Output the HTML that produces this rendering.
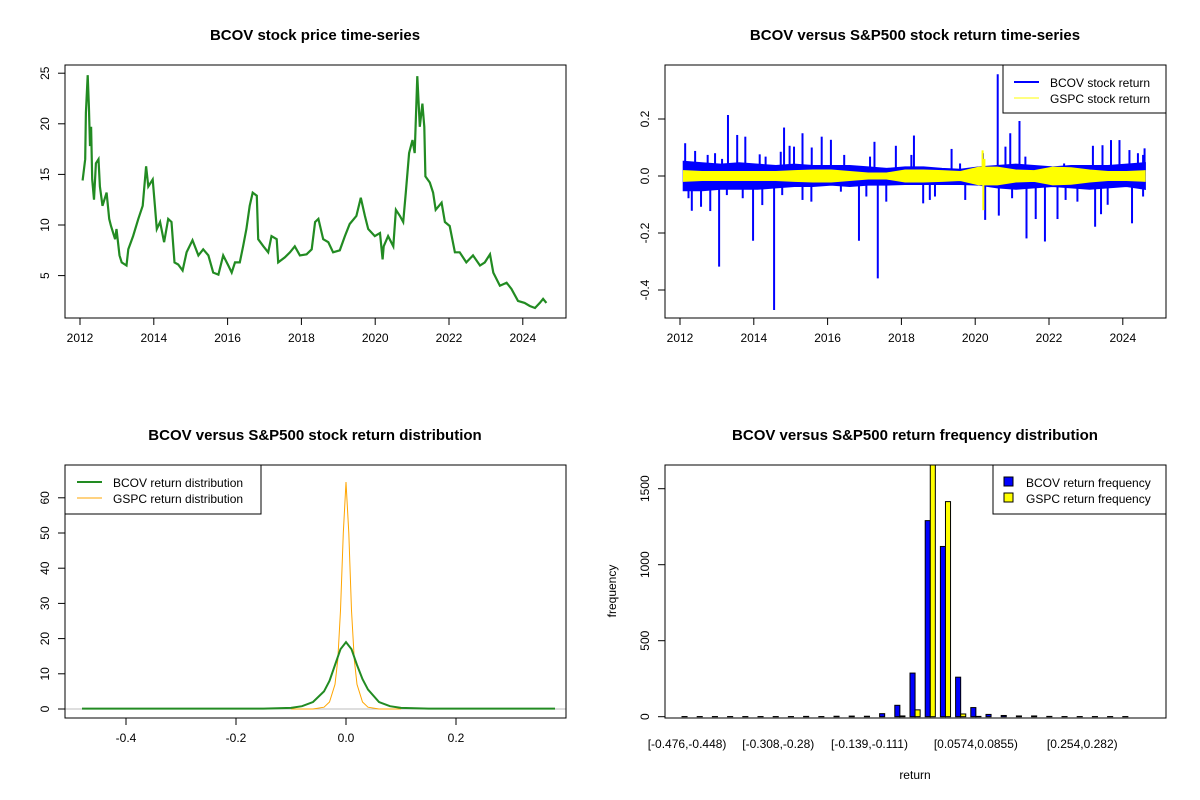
<!DOCTYPE html>
<html><head><meta charset="utf-8">
<style>
html,body{margin:0;padding:0;background:#fff;}
svg{display:block;font-family:"Liberation Sans",Arial,sans-serif;}
</style></head>
<body>
<svg id="chart" width="1200" height="800" viewBox="0 0 1200 800"></svg>
<script>
// ---------- Panel 1 data: BCOV price ----------
const priceYears=[2012.07,2012.14,2012.16,2012.21,2012.24,2012.27,2012.30,2012.33,2012.38,2012.43,2012.50,2012.54,2012.61,2012.72,2012.79,2012.84,2012.95,2012.99,2013.07,2013.13,2013.26,2013.31,2013.44,2013.58,2013.70,2013.79,2013.85,2013.97,2014.03,2014.08,2014.17,2014.28,2014.39,2014.48,2014.56,2014.66,2014.78,2014.89,2015.05,2015.21,2015.34,2015.48,2015.61,2015.75,2015.88,2016.02,2016.11,2016.20,2016.33,2016.42,2016.51,2016.60,2016.68,2016.79,2016.83,2016.97,2017.10,2017.19,2017.33,2017.37,2017.55,2017.69,2017.82,2017.96,2018.14,2018.28,2018.37,2018.46,2018.59,2018.73,2018.86,2019.04,2019.18,2019.31,2019.49,2019.61,2019.72,2019.81,2019.99,2020.13,2020.20,2020.23,2020.35,2020.49,2020.56,2020.67,2020.76,2020.83,2020.92,2021.01,2021.07,2021.14,2021.21,2021.28,2021.33,2021.36,2021.48,2021.57,2021.64,2021.80,2021.89,2022.02,2022.16,2022.29,2022.47,2022.65,2022.84,2022.97,2023.11,2023.20,2023.38,2023.56,2023.69,2023.87,2024.05,2024.19,2024.33,2024.46,2024.55,2024.64];
const priceVals=[14.4,16.5,21.1,24.8,21.7,17.8,19.7,14.5,12.5,16.1,16.5,13.8,11.9,13.2,10.6,9.9,8.6,9.6,7.0,6.3,6.0,7.6,8.9,10.6,11.9,15.8,13.8,14.5,11.9,9.6,10.3,8.3,10.6,10.3,6.3,6.1,5.5,7.3,8.5,7.0,7.6,7.0,5.3,5.1,7.0,6.0,5.3,6.3,6.3,7.9,9.6,11.9,13.2,12.9,8.6,7.9,7.3,8.9,8.6,6.3,6.8,7.3,7.9,7.0,7.1,7.6,10.3,10.6,8.6,8.3,7.3,7.5,8.9,10.1,10.9,12.7,10.9,9.6,8.9,9.2,6.6,7.9,8.9,7.9,11.5,10.9,10.3,13.2,17.1,18.4,17.1,24.7,19.7,22.0,19.7,14.8,14.2,13.2,11.5,12.2,10.3,9.9,7.3,7.3,6.3,7.0,6.0,6.3,7.1,5.3,4.0,4.3,3.7,2.5,2.3,2.0,1.8,2.3,2.7,2.3];
const yearTicks=[2012,2014,2016,2018,2020,2022,2024];
const priceTicks=[5,10,15,20,25];

// ---------- Panel 2 data: returns ----------
const bandYears=[2012.1,2012.6,2013.1,2013.6,2014.1,2014.6,2015.1,2015.6,2016.1,2016.6,2017.1,2017.6,2018.1,2018.6,2019.1,2019.6,2020.1,2020.6,2021.1,2021.6,2022.1,2022.6,2023.1,2023.6,2024.1,2024.6];
const bcovHi=[0.05,0.045,0.04,0.045,0.04,0.035,0.04,0.035,0.035,0.035,0.03,0.025,0.03,0.03,0.025,0.022,0.03,0.035,0.04,0.035,0.03,0.035,0.035,0.035,0.04,0.045];
const bcovLo=[-0.05,-0.05,-0.045,-0.045,-0.045,-0.04,-0.035,-0.035,-0.03,-0.035,-0.03,-0.03,-0.028,-0.028,-0.028,-0.028,-0.03,-0.04,-0.045,-0.04,-0.035,-0.04,-0.045,-0.04,-0.035,-0.045];
const gspcHi=[0.018,0.015,0.015,0.015,0.015,0.015,0.018,0.02,0.02,0.015,0.01,0.01,0.02,0.02,0.018,0.015,0.03,0.03,0.02,0.018,0.03,0.028,0.02,0.015,0.015,0.018];
const gspcLo=[-0.018,-0.015,-0.015,-0.015,-0.015,-0.015,-0.018,-0.02,-0.02,-0.015,-0.01,-0.01,-0.02,-0.02,-0.018,-0.015,-0.03,-0.03,-0.02,-0.018,-0.03,-0.028,-0.02,-0.015,-0.015,-0.018];
const spikeYears=[2012.14,2013.30,2013.55,2013.77,2014.82,2015.32,2015.84,2017.27,2018.34,2020.61,2020.95,2021.20,2023.68,2024.59,2012.32,2013.06,2013.98,2014.55,2016.85,2017.36,2018.59,2020.27,2020.64,2021.39,2021.89,2022.23,2023.25,2024.25,
 2012.41,2012.75,2012.95,2013.14,2014.16,2014.32,2014.73,2014.97,2015.09,2015.57,2016.09,2016.45,2017.15,2017.85,2018.27,2019.36,2019.59,2020.21,2020.82,2021.36,2022.41,2023.19,2023.45,2023.91,2024.18,2024.41,2024.55,
 2012.23,2012.57,2012.82,2013.27,2013.70,2014.23,2014.77,2015.32,2015.56,2016.36,2017.05,2017.59,2018.77,2018.91,2019.73,2021.00,2021.64,2022.45,2022.77,2023.41,2023.59,2024.55];
const spikeVals=[0.115,0.214,0.144,0.138,0.17,0.15,0.138,0.12,0.142,0.357,0.15,0.193,0.126,0.097,-0.122,-0.318,-0.227,-0.47,-0.227,-0.359,-0.096,-0.154,-0.139,-0.219,-0.23,-0.151,-0.178,-0.166,
 0.088,0.074,0.08,0.06,0.076,0.068,0.085,0.106,0.103,0.10,0.127,0.074,0.068,0.106,0.074,0.095,0.044,0.08,0.103,0.068,0.044,0.106,0.108,0.126,0.091,0.08,0.074,
 -0.078,-0.108,-0.123,-0.067,-0.078,-0.102,-0.067,-0.084,-0.09,-0.055,-0.072,-0.09,-0.084,-0.072,-0.084,-0.078,-0.151,-0.084,-0.09,-0.134,-0.101,-0.072];
const gspcSpikeYears=[2020.2,2020.22,2020.25];
const gspcSpikeVals=[0.09,-0.12,0.06];
const retTicks=[-0.4,-0.2,0.0,0.2];

// ---------- Panel 3 data: densities ----------
const bcovDx=[-0.48,-0.15,-0.1,-0.08,-0.06,-0.04,-0.03,-0.02,-0.01,0,0.01,0.02,0.03,0.04,0.06,0.08,0.1,0.15,0.38];
const bcovDy=[0.1,0.1,0.3,0.8,2,5,8,12.5,17,19,17,12.5,8.5,5.5,2,0.8,0.3,0.1,0.1];
const gspcDx=[-0.1,-0.06,-0.04,-0.03,-0.02,-0.015,-0.01,-0.005,0,0.005,0.01,0.015,0.02,0.03,0.04,0.06,0.1];
const gspcDy=[0,0,0.5,2,7,14,28,50,64.5,50,28,14,7,2,0.5,0,0];
const densXTicks=[-0.4,-0.2,0.0,0.2];
const densYTicks=[0,10,20,30,40,50,60];

// ---------- Panel 4 data: histogram ----------
const binLabels=["[-0.476,-0.448)","[-0.308,-0.28)","[-0.139,-0.111)","[0.0574,0.0855)","[0.254,0.282)"];
const binLabelIdx=[0,6,12,19,26];
const bcovFreq=[1,1,1,1,1,1,1,1,2,1,3,4,3,20,75,287,1290,1120,260,60,15,8,5,5,2,1,1,1,1,1];
const gspcFreq=[0,0,0,0,0,0,0,0,0,0,0,0,0,0,5,45,1700,1415,18,2,0,0,0,0,0,0,0,0,0,0];
const freqTicks=[0,500,1000,1500];

const NS="http://www.w3.org/2000/svg";
const svg=document.getElementById('chart');
function mk(tag,attrs,parent,txt){const e=document.createElementNS(NS,tag);for(const k in attrs)e.setAttribute(k,attrs[k]);if(txt!==undefined)e.textContent=txt;(parent||svg).appendChild(e);return e;}

function panel(name){const g=mk('g',{});return g;}
function box(g,x0,y0,x1,y1){const r=mk('rect',{x:x0,y:y0,width:x1-x0,height:y1-y0,fill:'none',stroke:'#000','stroke-width':1},g);}
function title(g,x,y,t){const e=mk('text',{x:x,y:y,'text-anchor':'middle','font-size':15,'font-weight':'bold'},g,t);}
function xAxis(g,ticks,sx,yb,fmt){const a=mk('g',{},g);
 mk('line',{x1:sx(ticks[0]),x2:sx(ticks[ticks.length-1]),y1:yb,y2:yb,stroke:'#000'},a);
 ticks.forEach(t=>{mk('line',{x1:sx(t),x2:sx(t),y1:yb,y2:yb+7,stroke:'#000'},a);const l=mk('text',{x:sx(t),y:yb+24,'text-anchor':'middle','font-size':12},a,fmt(t));});}
function yAxis(g,ticks,sy,xb,fmt){const a=mk('g',{},g);
 mk('line',{x1:xb,x2:xb,y1:sy(ticks[0]),y2:sy(ticks[ticks.length-1]),stroke:'#000'},a);
 ticks.forEach(t=>{mk('line',{x1:xb-7,x2:xb,y1:sy(t),y2:sy(t),stroke:'#000'},a);const xx=xb-16,yy=sy(t);const l=mk('text',{x:xx,y:yy,'text-anchor':'middle','font-size':12,transform:`rotate(-90 ${xx} ${yy})`},a,fmt(t));});}

// ---- Panel 1 ----
{const g=panel('price-panel');
 const sx=y=>80+(y-2012)*36.9, sy=v=>326.2-v*10.12;
 title(g,315,40,'BCOV stock price time-series');
 let d=priceYears.map((y,i)=>(i?'L':'M')+sx(y).toFixed(1)+' '+sy(priceVals[i]).toFixed(1)).join('');
 const p=mk('path',{d:d,fill:'none',stroke:'#228B22','stroke-width':2.2,'stroke-linejoin':'miter'},g);
 
 box(g,65,65,566,318);
 xAxis(g,yearTicks,sx,318,t=>String(t));
 yAxis(g,priceTicks,sy,65,t=>String(t));}

// ---- Panel 2 ----
{const g=panel('return-panel');
 const sx=y=>680+(y-2012)*36.9, sy=v=>176-v*285;
 title(g,915,40,'BCOV versus S&P500 stock return time-series');
 let up=bandYears.map((y,i)=>(i?'L':'M')+sx(y).toFixed(1)+' '+sy(bcovHi[i]).toFixed(1)).join('');
 let dn=bandYears.slice().reverse().map((y,j)=>{const i=bandYears.length-1-j;return 'L'+sx(y).toFixed(1)+' '+sy(bcovLo[i]).toFixed(1);}).join('');
 const b=mk('path',{d:up+dn+'Z',fill:'#0000FF',stroke:'#0000FF','stroke-width':2},g);
 
 spikeYears.forEach((y,i)=>{const s=mk('line',{x1:sx(y),x2:sx(y),y1:sy(0),y2:sy(spikeVals[i]),stroke:'#0000FF','stroke-width':2},g);});
 let gu=bandYears.map((y,i)=>(i?'L':'M')+sx(y).toFixed(1)+' '+sy(gspcHi[i]).toFixed(1)).join('');
 let gd=bandYears.slice().reverse().map((y,j)=>{const i=bandYears.length-1-j;return 'L'+sx(y).toFixed(1)+' '+sy(gspcLo[i]).toFixed(1);}).join('');
 const yb=mk('path',{d:gu+gd+'Z',fill:'#FFFF00',stroke:'#FFFF00','stroke-width':1.5},g);
 
 gspcSpikeYears.forEach((y,i)=>{const s=mk('line',{x1:sx(y),x2:sx(y),y1:sy(0),y2:sy(gspcSpikeVals[i]),stroke:'#FFFF00','stroke-width':2},g);});
 box(g,665,65,1166,318);
 xAxis(g,yearTicks,sx,318,t=>String(t));
 yAxis(g,retTicks,sy,665,t=>t.toFixed(1));
 const lg=mk('g',{},g);
 mk('rect',{x:1003,y:65,width:163,height:48,fill:'#fff',stroke:'#000'},lg);
 mk('line',{x1:1014,x2:1039,y1:82,y2:82,stroke:'#0000FF','stroke-width':2},lg);
 mk('line',{x1:1014,x2:1039,y1:98,y2:98,stroke:'#FFFF00','stroke-width':1},lg);
 const t1=mk('text',{x:1050,y:87,'font-size':12},lg,'BCOV stock return');
 const t2=mk('text',{x:1050,y:103,'font-size':12},lg,'GSPC stock return');}

// ---- Panel 3 ----
{const g=panel('density-panel');
 const sx=v=>346+v*550, sy=v=>709-v*3.52;
 title(g,315,440,'BCOV versus S&P500 stock return distribution');
 mk('line',{x1:65,x2:566,y1:sy(0),y2:sy(0),stroke:'#bebebe'},g);
 const o=mk('path',{d:gspcDx.map((x,i)=>(i?'L':'M')+sx(x).toFixed(1)+' '+sy(gspcDy[i]).toFixed(1)).join(''),fill:'none',stroke:'#FFA500','stroke-width':1},g);
 
 const gr=mk('path',{d:bcovDx.map((x,i)=>(i?'L':'M')+sx(x).toFixed(1)+' '+sy(bcovDy[i]).toFixed(1)).join(''),fill:'none',stroke:'#228B22','stroke-width':2},g);
 
 box(g,65,465,566,718);
 xAxis(g,densXTicks,sx,718,t=>t.toFixed(1));
 yAxis(g,densYTicks,sy,65,t=>String(t));
 const lg=mk('g',{},g);
 mk('rect',{x:65,y:465,width:196,height:49,fill:'#fff',stroke:'#000'},lg);
 mk('line',{x1:77,x2:102,y1:482,y2:482,stroke:'#228B22','stroke-width':2},lg);
 mk('line',{x1:77,x2:102,y1:498,y2:498,stroke:'#FFA500','stroke-width':1},lg);
 const t1=mk('text',{x:113,y:487,'font-size':12},lg,'BCOV return distribution');
 const t2=mk('text',{x:113,y:503,'font-size':12},lg,'GSPC return distribution');}

// ---- Panel 4 ----
{const g=panel('histogram-panel');
 const bx=i=>682+i*15.2, bw=5.07, sy=v=>716.7-v*0.152;
 title(g,915,440,'BCOV versus S&P500 return frequency distribution');
 const clip=mk('clipPath',{id:'hc'},g);mk('rect',{x:665,y:465,width:501,height:253},clip);
 const bars=mk('g',{'clip-path':'url(#hc)'},g);
 bcovFreq.forEach((v,i)=>{const y=sy(v);const r=mk('rect',{x:bx(i),y:y,width:bw,height:sy(0)-y,fill:'#0000FF',stroke:'#000','stroke-width':1},bars);});
 gspcFreq.forEach((v,i)=>{const y=sy(v);const r=mk('rect',{x:bx(i)+bw,y:y,width:bw,height:sy(0)-y,fill:'#FFFF00',stroke:'#000','stroke-width':1},bars);});
 box(g,665,465,1166,718);
 binLabelIdx.forEach((i,k)=>{const l=mk('text',{x:bx(i)+bw,y:748,'text-anchor':'middle','font-size':12},g,binLabels[k]);});
 yAxis(g,freqTicks,sy,665,t=>String(t));
 const xt=mk('text',{x:915,y:779,'text-anchor':'middle','font-size':12},g,'return');
 const yt=mk('text',{x:616,y:591,'text-anchor':'middle','font-size':12,transform:'rotate(-90 616 591)'},g,'frequency');
 const lg=mk('g',{},g);
 mk('rect',{x:993,y:465,width:173,height:49,fill:'#fff',stroke:'#000'},lg);
 mk('rect',{x:1004,y:477,width:9,height:9,fill:'#0000FF',stroke:'#000'},lg);
 mk('rect',{x:1004,y:493,width:9,height:9,fill:'#FFFF00',stroke:'#000'},lg);
 const t1=mk('text',{x:1026,y:487,'font-size':12},lg,'BCOV return frequency');
 const t2=mk('text',{x:1026,y:503,'font-size':12},lg,'GSPC return frequency');}
</script>
</body></html>
